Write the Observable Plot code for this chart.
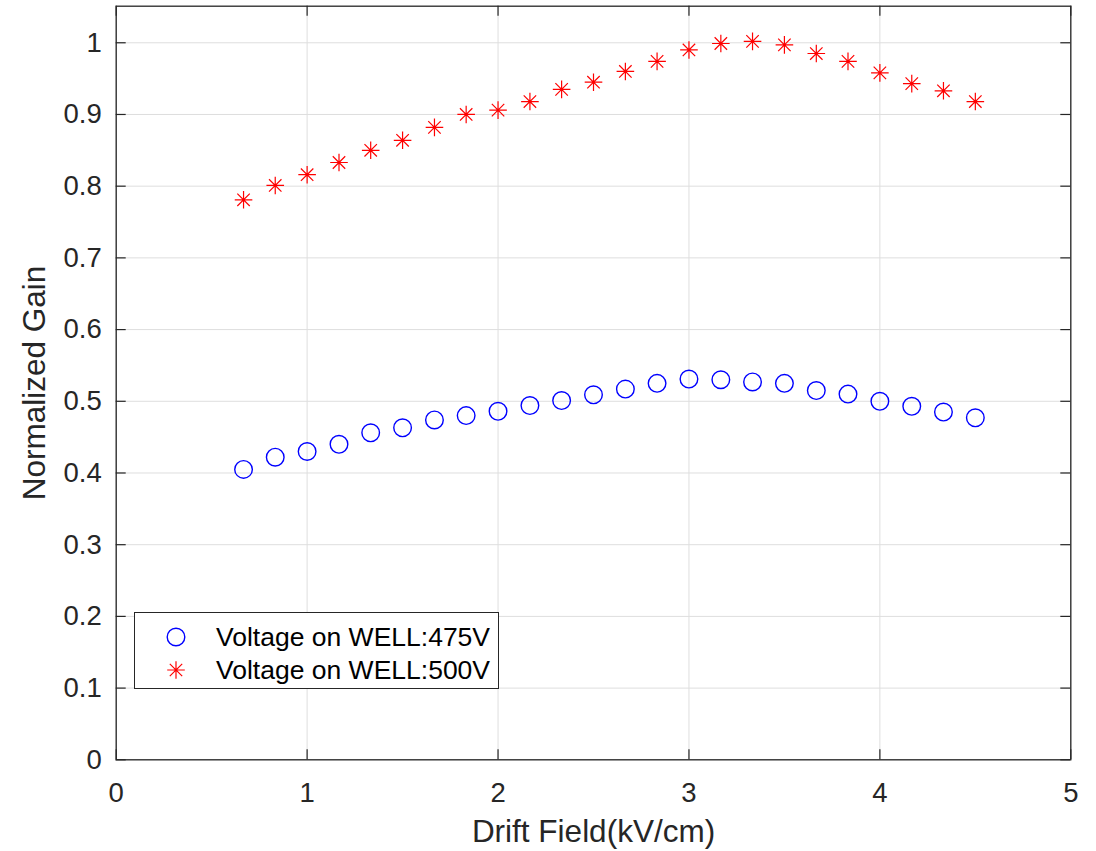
<!DOCTYPE html>
<html>
<head>
<meta charset="utf-8">
<script src="https://cdn.jsdelivr.net/npm/d3@7"></script>
<script src="https://cdn.jsdelivr.net/npm/@observablehq/plot@0.6"></script>
<style>
  html, body { margin: 0; padding: 0; background: #fff; }
  #wrap { position: relative; width: 1096px; height: 851px; font-family: "Liberation Sans", Arial, Helvetica, sans-serif; }
  #legend { position: absolute; left: 134px; top: 612px; width: 365px; height: 77px; box-sizing: border-box;
            border: 1.3px solid #262626; background: #fff; font-size: 26.5px; color: #000; }
  .row { position: absolute; left: 0; height: 32px; width: 100%; }
  .row svg { position: absolute; left: 30px; top: 5px; }
  .row span { position: absolute; left: 81px; top: 50%; transform: translateY(-50%); white-space: nowrap; line-height: 1; }
</style>
</head>
<body>
<div id="wrap"></div>
<script>
// ---- data ----
const driftField = [0.667, 0.833, 1, 1.167, 1.333, 1.5, 1.667, 1.833, 2, 2.167, 2.333, 2.5,
                    2.667, 2.833, 3, 3.167, 3.333, 3.5, 3.667, 3.833, 4, 4.167, 4.333, 4.5];
const gain475 = [0.405, 0.422, 0.430, 0.440, 0.456, 0.463, 0.474, 0.480, 0.486, 0.494, 0.501, 0.509,
                 0.517, 0.525, 0.531, 0.530, 0.527, 0.525, 0.515, 0.510, 0.500, 0.493, 0.485, 0.477];
const gain500 = [0.781, 0.801, 0.816, 0.833, 0.850, 0.864, 0.882, 0.900, 0.906, 0.918, 0.935, 0.945,
                 0.960, 0.974, 0.990, 0.999, 1.002, 0.997, 0.985, 0.974, 0.958, 0.943, 0.933, 0.918];
const seriesNames = ["Voltage on WELL:475V", "Voltage on WELL:500V"];
const xTicks = [0, 1, 2, 3, 4, 5];
const yTicks = [0, 0.1, 0.2, 0.3, 0.4, 0.5, 0.6, 0.7, 0.8, 0.9, 1];
const xLabel = "Drift Field(kV/cm)";
const yLabel = "Normalized Gain";

const rows475 = driftField.map((x, i) => ({x, y: gain475[i]}));
const rows500 = driftField.map((x, i) => ({x, y: gain500[i]}));

// MATLAB-like '*' marker: + and x combined
const star8 = {
  draw(ctx, size) {
    const r = Math.sqrt(size / Math.PI);
    const d = r * Math.SQRT1_2;
    ctx.moveTo(-r, 0); ctx.lineTo(r, 0);
    ctx.moveTo(0, -r); ctx.lineTo(0, r);
    ctx.moveTo(-d, -d); ctx.lineTo(d, d);
    ctx.moveTo(-d, d); ctx.lineTo(d, -d);
  }
};

const fmt = d => String(+d.toFixed(1));
const axisColor = "#262626";

const W = 1096, H = 851, mL = 115.7, mR = 25.7, mT = 5.7, mB = 91.7;
const innerW = W - mL - mR, innerH = H - mT - mB, tick = 10;

const chart = Plot.plot({
  width: W,
  height: H,
  marginLeft: mL,
  marginRight: mR,
  marginTop: mT,
  marginBottom: mB,
  style: {fontFamily: '"Liberation Sans", Arial, Helvetica, sans-serif', color: axisColor, background: "#fff"},
  x: {domain: [0, 5]},
  y: {domain: [0, 1.051]},
  marks: [
    Plot.gridX(xTicks, {stroke: "#dedede", strokeOpacity: 1, strokeWidth: 1}),
    Plot.gridY(yTicks, {stroke: "#dedede", strokeOpacity: 1, strokeWidth: 1}),
    // inward tick marks on all four sides
    Plot.ruleX(xTicks, {x: d => d, insetTop: innerH - tick, stroke: axisColor, strokeWidth: 1.2}),
    Plot.ruleX(xTicks, {x: d => d, insetBottom: innerH - tick, stroke: axisColor, strokeWidth: 1.2}),
    Plot.ruleY(yTicks, {y: d => d, insetRight: innerW - tick, stroke: axisColor, strokeWidth: 1.2}),
    Plot.ruleY(yTicks, {y: d => d, insetLeft: innerW - tick, stroke: axisColor, strokeWidth: 1.2}),
    Plot.axisX(xTicks, {anchor: "bottom", tickSize: 0, tickPadding: 23, tickFormat: fmt,
      label: xLabel, labelAnchor: "center", labelArrow: "none", labelOffset: 82, fill: axisColor}),
    Plot.axisY(yTicks, {anchor: "left", tickSize: 0, tickPadding: 14.5, tickFormat: fmt,
      label: yLabel, labelAnchor: "center", labelArrow: "none", labelOffset: 94, fill: axisColor}),
    Plot.frame({stroke: axisColor, strokeWidth: 1.3}),
    Plot.dot(rows475, {x: "x", y: "y", r: 8.8, symbol: "circle", stroke: "#0000ff", strokeWidth: 1.4, fill: "none"}),
    Plot.dot(rows500, {x: "x", y: "y", r: 8.8, symbol: star8, stroke: "#ff0000", strokeWidth: 1.2, fill: "none"})
  ]
});

const wrap = document.getElementById("wrap");
wrap.appendChild(chart);
// font sizes: tick labels and axis titles
chart.querySelectorAll('g[aria-label$="tick label"]').forEach(g => {
  g.setAttribute("font-size", 27.5);
  g.querySelectorAll("text").forEach(t => t.setAttribute("font-size", 27.5));
});
chart.querySelectorAll('g[aria-label="x-axis label"], g[aria-label="y-axis label"]').forEach(g => {
  g.setAttribute("font-size", 31.5);
  g.querySelectorAll("text").forEach(t => t.setAttribute("font-size", 31.5));
});

// legend
const legend = document.createElement("div");
legend.id = "legend";
const markers = [
  `<svg width="22" height="22" viewBox="-11 -11 22 22"><circle r="8.8" fill="none" stroke="#0000ff" stroke-width="1.4"/></svg>`,
  `<svg width="22" height="22" viewBox="-11 -11 22 22"><path d="M-8.8,0L8.8,0M0,-8.8L0,8.8M-6.2,-6.2L6.2,6.2M-6.2,6.2L6.2,-6.2" stroke="#ff0000" stroke-width="1.2" fill="none"/></svg>`
];
seriesNames.forEach((name, i) => {
  const row = document.createElement("div");
  row.className = "row";
  row.style.top = (i === 0 ? 7.5 : 40.5) + "px";
  row.innerHTML = markers[i] + `<span>${name}</span>`;
  legend.appendChild(row);
});
wrap.appendChild(legend);
</script>
</body>
</html>
